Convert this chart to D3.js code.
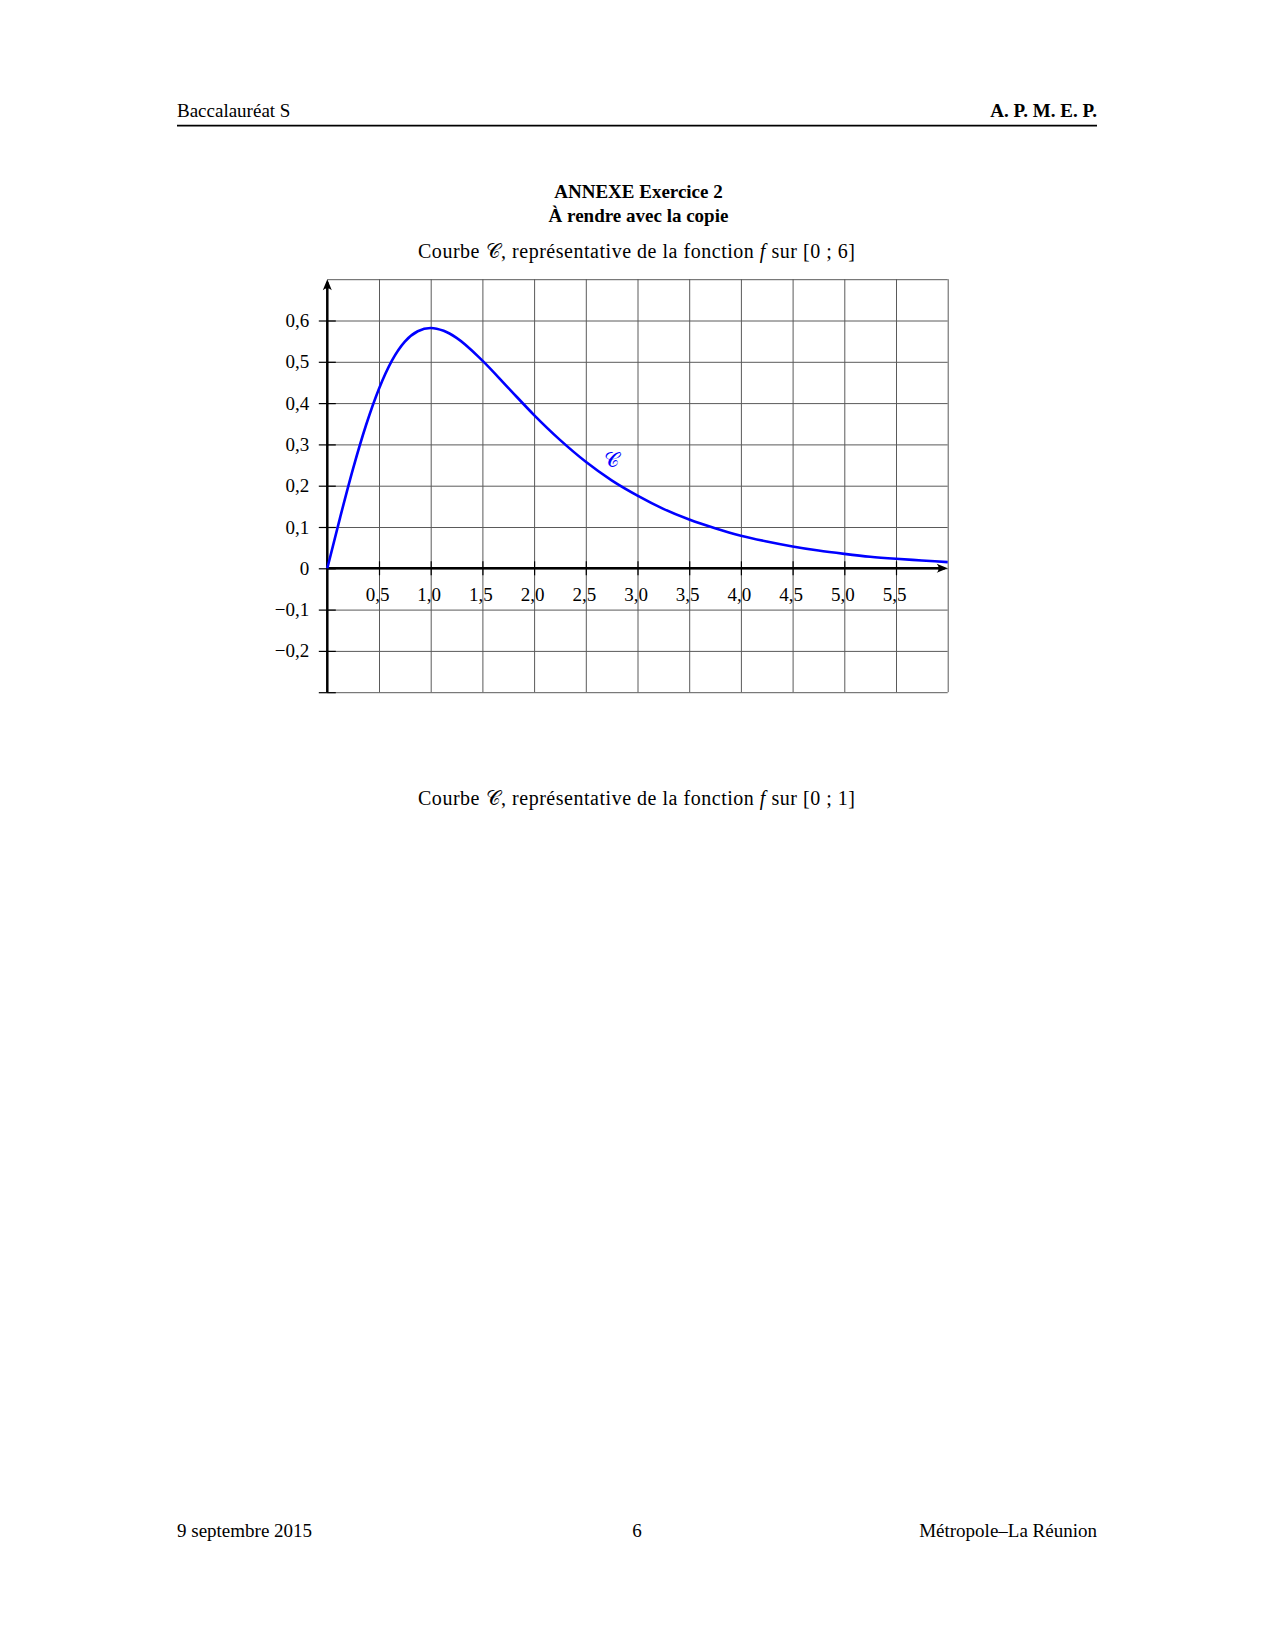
<!DOCTYPE html>
<html lang="fr">
<head>
    <meta charset="UTF-8">
    <title>ANNEXE Exercice 2</title>
    <script src="https://cdn.jsdelivr.net/npm/d3@7"></script>
    <style>
        body { margin: 0; background: #fff; }
        svg { display: block; font-family: "Liberation Serif", "DejaVu Serif", serif; }
        .grid line { stroke: #5a5a5a; stroke-width: 1; }
        .grid path { display: none; }
        .axis path { display: none; }
        .axis line { stroke: #000; stroke-width: 1.2; }
        .axis text { font-family: "Liberation Serif", serif; font-size: 19px; fill: #000; }
        .curve { fill: none; stroke: #0000ff; stroke-width: 2.6; }
    </style>
</head>
<body>
    <svg width="1275" height="1650"></svg>

    <script>
        const xValues = [0, 0.125, 0.25, 0.375, 0.5, 0.625, 0.75, 0.875, 1, 1.125, 1.25, 1.5, 1.75, 2,
            2.25, 2.5, 2.75, 3, 3.25, 3.5, 3.75, 4, 4.25, 4.5, 4.75, 5, 5.25, 5.5, 5.75, 6];
        const fValues = [0, 0.124, 0.242, 0.347, 0.435, 0.503, 0.549, 0.574, 0.582, 0.575, 0.558, 0.503, 0.437, 0.371,
            0.311, 0.258, 0.213, 0.176, 0.144, 0.118, 0.097, 0.079, 0.065, 0.053, 0.043, 0.035, 0.028, 0.023, 0.019, 0.015];

        const xTicks = [0.5, 1, 1.5, 2, 2.5, 3, 3.5, 4, 4.5, 5, 5.5];
        const xTickLabels = ["0,5", "1,0", "1,5", "2,0", "2,5", "3,0", "3,5", "4,0", "4,5", "5,0", "5,5"];
        const yTicks = [-0.3, -0.2, -0.1, 0, 0.1, 0.2, 0.3, 0.4, 0.5, 0.6];
        const yTickLabels = ["", "\u22120,2", "\u22120,1", "0", "0,1", "0,2", "0,3", "0,4", "0,5", "0,6"];
        const xGrid = [0.5, 1, 1.5, 2, 2.5, 3, 3.5, 4, 4.5, 5, 5.5, 6];
        const yGrid = [-0.3, -0.2, -0.1, 0, 0.1, 0.2, 0.3, 0.4, 0.5, 0.6, 0.7];

        const svg = d3.select("svg");
        svg.append("rect").attr("width", 1275).attr("height", 1650).attr("fill", "#fff");

        const x = d3.scaleLinear().domain([0, 6]).range([327.3, 947.7]);
        const y = d3.scaleLinear().domain([-0.3, 0.7]).range([692.2, 279.2]);

        // en-tete
        svg.append("text").attr("x", 177).attr("y", 117).attr("font-size", 19).text("Baccalauréat S");
        svg.append("text").attr("x", 1097).attr("y", 117).attr("font-size", 19)
            .attr("font-weight", "bold").attr("text-anchor", "end").text("A. P. M. E. P.");
        svg.append("line").attr("x1", 177).attr("x2", 1097).attr("y1", 125.7).attr("y2", 125.7)
            .attr("stroke", "#000").attr("stroke-width", 1.7);

        svg.append("text").attr("x", 638.5).attr("y", 198).attr("font-size", 19)
            .attr("font-weight", "bold").attr("text-anchor", "middle").text("ANNEXE Exercice 2");
        svg.append("text").attr("x", 638.5).attr("y", 222).attr("font-size", 19)
            .attr("font-weight", "bold").attr("text-anchor", "middle").text("À rendre avec la copie");

        function subtitle(yPos, interval) {
            const t = svg.append("text").attr("x", 418).attr("y", yPos).attr("font-size", 20)
                .attr("textLength", 437).attr("lengthAdjust", "spacing");
            t.append("tspan").text("Courbe ");
            t.append("tspan").attr("font-family", "DejaVu Sans").attr("font-size", 20).text("\u{1D49E}");
            t.append("tspan").text(", représentative de la fonction ");
            t.append("tspan").attr("font-style", "italic").text("f");
            t.append("tspan").text("  sur " + interval);
        }
        subtitle(258, "[0 ; 6]");
        subtitle(805, "[0 ; 1]");

        // quadrillage
        const plotH = y(-0.3) - y(0.7);
        const plotW = x(6) - x(0);
        svg.append("g").attr("class", "grid")
            .attr("transform", `translate(0,${y(-0.3)})`)
            .call(d3.axisBottom(x).tickValues(xGrid).tickSize(-plotH).tickFormat(""));
        svg.append("g").attr("class", "grid")
            .attr("transform", `translate(${x(0)},0)`)
            .call(d3.axisLeft(y).tickValues(yGrid).tickSize(-plotW).tickFormat(""));

        // axes
        const xAxis = svg.append("g").attr("class", "axis")
            .attr("transform", `translate(0,${y(0)})`)
            .call(d3.axisBottom(x).tickValues(xTicks).tickSize(7).tickPadding(12)
                .tickFormat((d, i) => xTickLabels[i]));
        xAxis.selectAll(".tick line").attr("y1", -7);
        xAxis.selectAll(".tick text").attr("dx", -2);

        const yAxis = svg.append("g").attr("class", "axis")
            .attr("transform", `translate(${x(0)},0)`)
            .call(d3.axisLeft(y).tickValues(yTicks).tickSize(8.5).tickPadding(9.5)
                .tickFormat((d, i) => yTickLabels[i]));
        yAxis.selectAll(".tick line").attr("x1", 8.5);

        svg.append("line").attr("x1", x(0)).attr("x2", x(6) - 3).attr("y1", y(0)).attr("y2", y(0))
            .attr("stroke", "#000").attr("stroke-width", 2.5);
        svg.append("line").attr("x1", x(0)).attr("x2", x(0)).attr("y1", y(-0.3)).attr("y2", y(0.7) + 3)
            .attr("stroke", "#000").attr("stroke-width", 2.5);

        // fleches
        const tipX = x(6), tipY = y(0);
        svg.append("path")
            .attr("d", `M${tipX},${tipY} L${tipX - 11},${tipY - 4.5} Q${tipX - 7},${tipY} ${tipX - 11},${tipY + 4.5} Z`)
            .attr("fill", "#000");
        const tX = x(0), tY = y(0.7);
        svg.append("path")
            .attr("d", `M${tX},${tY} L${tX - 4.5},${tY + 11} Q${tX},${tY + 7} ${tX + 4.5},${tY + 11} Z`)
            .attr("fill", "#000");

        // courbe
        const line = d3.line()
            .x((d, i) => x(xValues[i]))
            .y(d => y(d))
            .curve(d3.curveMonotoneX);
        svg.append("path").attr("class", "curve").attr("d", line(fValues));

        svg.append("text").attr("x", x(2.75)).attr("y", y(0.262)).attr("dy", "0.35em")
            .attr("text-anchor", "middle").attr("font-family", "DejaVu Sans").attr("font-size", 21)
            .attr("fill", "#0000ff").text("\u{1D49E}");

        // pied de page
        svg.append("text").attr("x", 177).attr("y", 1537).attr("font-size", 19).text("9 septembre 2015");
        svg.append("text").attr("x", 637).attr("y", 1537).attr("font-size", 19)
            .attr("text-anchor", "middle").text("6");
        svg.append("text").attr("x", 1097).attr("y", 1537).attr("font-size", 19)
            .attr("text-anchor", "end").text("Métropole–La Réunion");
    </script>
</body>
</html>
